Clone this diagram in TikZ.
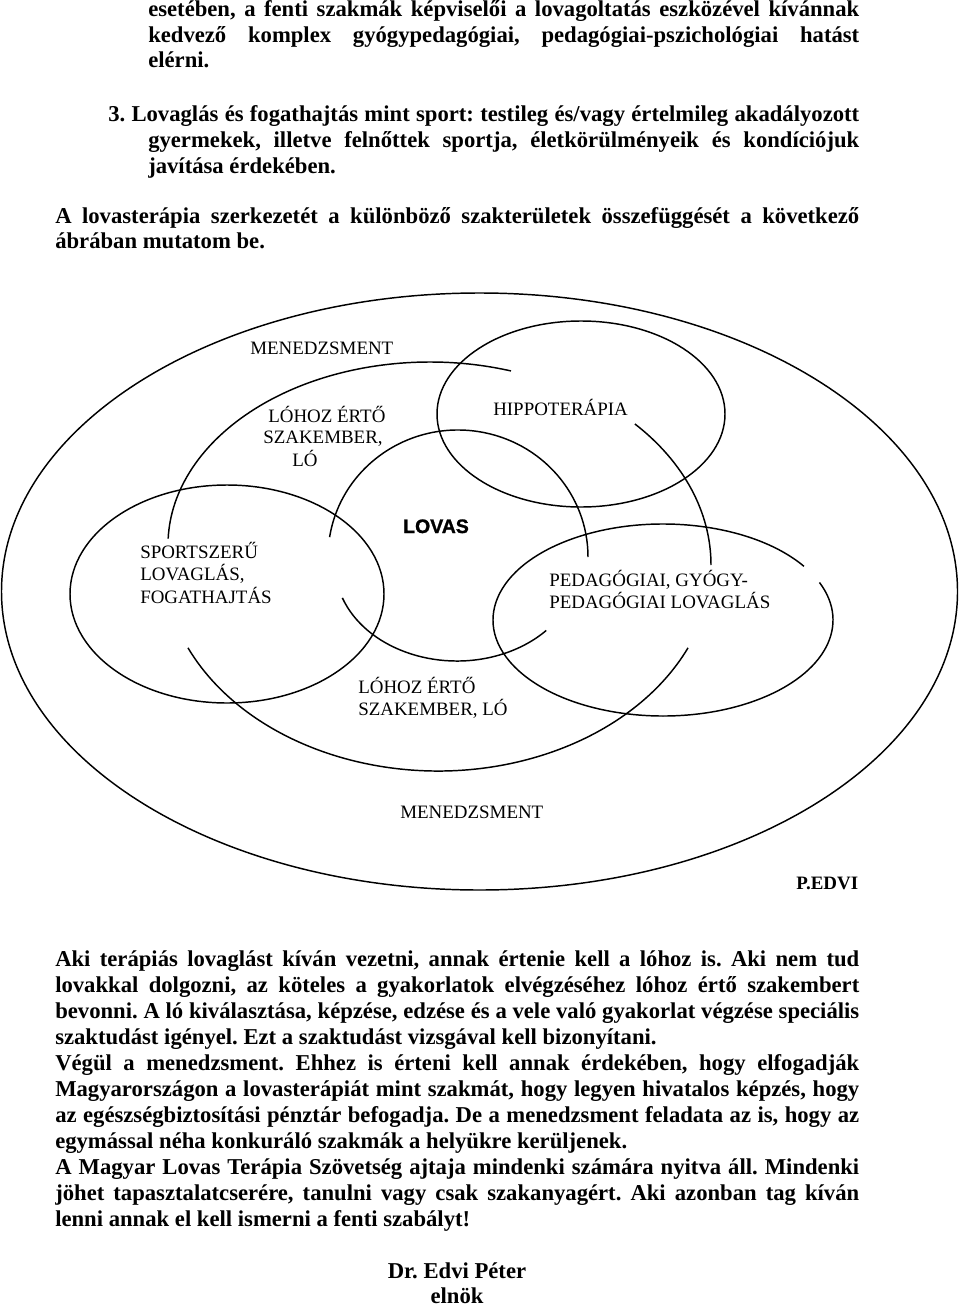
\documentclass[tikz,border=0pt]{standalone}
\usepackage{fontspec}
\setmainfont{Liberation Serif}
\newfontfamily\lovasfont{Liberation Sans Bold}[FakeBold=1.2]
\newcommand\jus[2]{\makebox[#1][s]{\spaceskip=0.25em plus 1fil minus 0.1em\relax #2}}
\newcommand\earc[6]{\draw[ring] (#1,-#2) ++(#5:#3 and #4) arc[start angle=#5, end angle=#6, x radius=#3, y radius=#4];}
\tikzset{
  ring/.style={line width=1.1pt, black},
  body/.style={inner sep=0pt, anchor=base west, font=\fontsize{17}{19}\selectfont\bfseries\frenchspacing},
  lbl/.style={inner sep=0pt, anchor=base west, font=\fontsize{14.2}{16.3}\selectfont},
}
\begin{document}
\begin{tikzpicture}[x=0.75pt, y=0.75pt]
\useasboundingbox (0,0) rectangle (960,-1309);
\fill[white] (0,0) rectangle (960,-1309);

% ---- text above the diagram ----
\node[body] (t1) at (148,-17) {\jus{533.25pt}{esetében, a fenti szakmák képviselői a lovagoltatás eszközével kívánnak}};
\node[body] (t2) at (148,-43) {\jus{533.25pt}{kedvező komplex gyógypedagógiai, pedagógiai-pszichológiai hatást}};
\node[body] (t3) at (148,-68) {elérni.};
\node[body] (t4) at (108,-122) {\jus{563.25pt}{3. Lovaglás és fogathajtás mint sport: testileg és/vagy értelmileg akadályozott}};
\node[body] (t5) at (148,-147) {\jus{533.25pt}{gyermekek, illetve felnőttek sportja, életkörülményeik és kondíciójuk}};
\node[body] (t6) at (148,-173) {javítása érdekében.};
\node[body] (t7) at (55,-223) {\jus{603pt}{A lovasterápia szerkezetét a különböző szakterületek összefüggését a következő}};
\node[body] (t8) at (55,-248) {ábrában mutatom be.};

% ---- diagram shapes ----
\draw[ring] (479.5,-591.5) ellipse [x radius=478, y radius=298.5];
\draw[ring] (581,-414) ellipse [x radius=144, y radius=93];
\draw[ring] (227,-594) ellipse [x radius=157, y radius=109];
\earc{663}{620}{170}{96}{34}{383}
\earc{430}{545}{262}{183}{72}{178}
\earc{440}{565}{271}{203}{44}{0}
\earc{438}{560}{275}{211}{204.6}{335.4}
\earc{458}{557}{130}{127}{171}{0}
\earc{457}{565}{122}{96}{200}{317}

% ---- diagram labels ----
\node[lbl] (men1) at (250,-354) {MENEDZSMENT};
\node[lbl] (hip) at (493,-415) {HIPPOTERÁPIA};
\node[lbl] (loh1) at (263,-422) {\begin{tabular}[t]{@{}l@{}}\hspace*{3.75pt}LÓHOZ ÉRTŐ\\SZAKEMBER,\\\hspace*{21.75pt}LÓ\end{tabular}};
\node[inner sep=0pt, anchor=base, font=\lovasfont\fontsize{14.6}{17}\selectfont] (lovas) at (436,-533) {LOVAS};
\node[lbl] (sport) at (140,-558) {\begin{tabular}[t]{@{}l@{}}SPORTSZERŰ\\LOVAGLÁS,\\FOGATHAJTÁS\end{tabular}};
\node[lbl] (ped) at (549,-586) {\begin{tabular}[t]{@{}l@{}}PEDAGÓGIAI, GYÓGY-\\PEDAGÓGIAI LOVAGLÁS\end{tabular}};
\node[lbl] (loh2) at (358,-693) {\begin{tabular}[t]{@{}l@{}}LÓHOZ ÉRTŐ\\SZAKEMBER, LÓ\end{tabular}};
\node[lbl] (men2) at (400,-818) {MENEDZSMENT};
\node[lbl, font=\fontsize{14.2}{16.3}\selectfont\bfseries] (edvi) at (796,-889) {P.EDVI};

% ---- text below the diagram ----
\node[body] (b1) at (55,-966) {\jus{603pt}{Aki terápiás lovaglást kíván vezetni, annak értenie kell a lóhoz is. Aki nem tud}};
\node[body] (b2) at (55,-992) {\jus{603pt}{lovakkal dolgozni, az köteles a gyakorlatok elvégzéséhez lóhoz értő szakembert}};
\node[body] (b3) at (55,-1018) {\jus{603pt}{bevonni. A ló kiválasztása, képzése, edzése és a vele való gyakorlat végzése speciális}};
\node[body] (b4) at (55,-1044) {szaktudást igényel. Ezt a szaktudást vizsgával kell bizonyítani.};
\node[body] (b5) at (55,-1070) {\jus{603pt}{Végül a menedzsment. Ehhez is érteni kell annak érdekében, hogy elfogadják}};
\node[body] (b6) at (55,-1096) {\jus{603pt}{Magyarországon a lovasterápiát mint szakmát, hogy legyen hivatalos képzés, hogy}};
\node[body] (b7) at (55,-1122) {\jus{603pt}{az egészségbiztosítási pénztár befogadja. De a menedzsment feladata az is, hogy az}};
\node[body] (b8) at (55,-1148) {egymással néha konkuráló szakmák a helyükre kerüljenek.};
\node[body] (b9) at (55,-1174) {\jus{603pt}{A Magyar Lovas Terápia Szövetség ajtaja mindenki számára nyitva áll. Mindenki}};
\node[body] (b10) at (55,-1200) {\jus{603pt}{jöhet tapasztalatcserére, tanulni vagy csak szakanyagért. Aki azonban tag kíván}};
\node[body] (b11) at (55,-1226) {lenni annak el kell ismerni a fenti szabályt!};
\node[body, anchor=base] (sig1) at (457,-1278) {Dr. Edvi Péter};
\node[body, anchor=base] (sig2) at (457,-1303) {elnök};
\end{tikzpicture}
\end{document}
